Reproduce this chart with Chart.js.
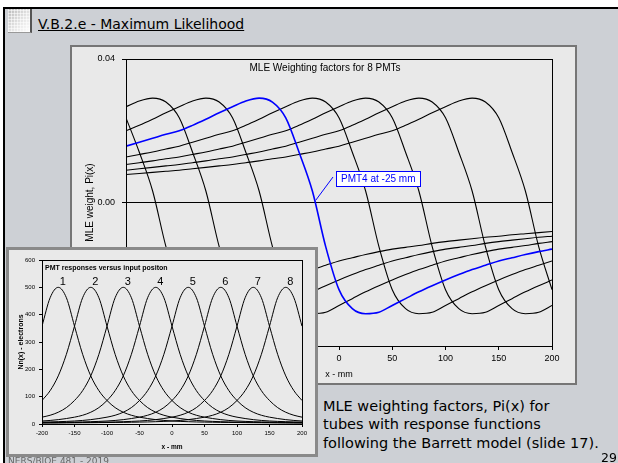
<!DOCTYPE html>
<html>
<head>
<meta charset="utf-8">
<title>V.B.2.e - Maximum Likelihood</title>
<script src="https://cdn.jsdelivr.net/npm/chart.js@4.4.1/dist/chart.umd.min.js"></script>
<style>
  html, body { margin:0; padding:0; }
  body { width:618px; height:463px; overflow:hidden; position:relative; background:#ffffff; font-family:'DejaVu Sans', sans-serif; }
  .abs { position:absolute; }
  #slide { left:3px; top:7px; width:615px; height:456px; box-sizing:border-box; background:#cdd0d5; border-top:2px solid #000; border-left:2px solid #000; }
  #icon { left:8px; top:9px; width:24px; height:24px; box-sizing:border-box; border-right:2px solid #555; border-bottom:1px solid #999;
          background:
            repeating-linear-gradient(0deg, rgba(255,255,255,0.55) 0 1px, rgba(255,255,255,0) 1px 3px),
            repeating-linear-gradient(90deg, rgba(255,255,255,0.55) 0 1px, rgba(255,255,255,0) 1px 3px),
            linear-gradient(135deg, #b9b9b9 0%, #e4e4e4 55%, #ffffff 100%); }
  #heading { left:38px; top:16px; font-size:14px; line-height:16px; color:#000; text-decoration:underline; white-space:nowrap; }
  #mainBox { left:70px; top:45px; width:507px; height:340px; box-sizing:border-box; background:#e9e9e9; border:2px solid #767676; }
  #mainChart { left:70px; top:45px; }
  #insetBox { left:6px; top:247px; width:312px; height:210px; box-sizing:border-box; background:#e9e9e9; border:3px solid #8a8a8a; }
  #insetChart { left:6px; top:247px; }
  #caption { left:323px; top:396.5px; font-size:14.5px; line-height:18.7px; color:#000; white-space:nowrap; }
  #pageNo { right:1px; top:450.5px; font-size:12.5px; line-height:14px; color:#000; }
  #footer { left:8px; top:456px; font-size:9px; line-height:11px; color:#666; white-space:nowrap; }
</style>
</head>
<body>
<div id="slide" class="abs"></div>
<div id="icon" class="abs"></div>
<div id="heading" class="abs">V.B.2.e - Maximum Likelihood</div>
<div id="mainBox" class="abs"></div>
<canvas id="mainChart" class="abs" width="507" height="340"></canvas>
<div id="insetBox" class="abs"></div>
<canvas id="insetChart" class="abs" width="312" height="210"></canvas>
<div id="caption" class="abs">MLE weighting factors, Pi(x) for<br>tubes with response functions<br>following the Barrett model (slide 17).</div>
<div id="pageNo" class="abs">29</div>
<div id="footer" class="abs">NERS/BIOE 481 - 2019</div>

<script>
// ---------- data ----------
const xValues = [-200,-187.5,-175,-162.5,-150,-137.5,-125,-112.5,-100,-87.5,-75,-62.5,-50,-37.5,-25,-12.5,0,12.5,25,37.5,50,62.5,75,87.5,100,112.5,125,137.5,150,162.5,175,187.5,200];

// MLE weighting factors Pi(x) for the 8 PMTs (main chart)
const mle1 = [0.0236,0.0140,0.0032,-0.0123,-0.0243,-0.0296,-0.0310,-0.0306,-0.0287,-0.0268,-0.0249,-0.0232,-0.0216,-0.0201,-0.0187,-0.0175,-0.0163,-0.0154,-0.0145,-0.0137,-0.0130,-0.0125,-0.0120,-0.0114,-0.0109,-0.0105,-0.0101,-0.0097,-0.0094,-0.0090,-0.0087,-0.0084,-0.0081];
const mle2 = [0.0267,0.0283,0.0291,0.0280,0.0236,0.0140,0.0032,-0.0123,-0.0243,-0.0296,-0.0310,-0.0306,-0.0287,-0.0268,-0.0249,-0.0232,-0.0216,-0.0201,-0.0187,-0.0175,-0.0163,-0.0154,-0.0145,-0.0137,-0.0130,-0.0125,-0.0120,-0.0114,-0.0109,-0.0105,-0.0101,-0.0097,-0.0094];
const mle3 = [0.0200,0.0215,0.0232,0.0250,0.0267,0.0283,0.0291,0.0280,0.0236,0.0140,0.0032,-0.0123,-0.0243,-0.0296,-0.0310,-0.0306,-0.0287,-0.0268,-0.0249,-0.0232,-0.0216,-0.0201,-0.0187,-0.0175,-0.0163,-0.0154,-0.0145,-0.0137,-0.0130,-0.0125,-0.0120,-0.0114,-0.0109];
const mle4 = [0.0157,0.0168,0.0179,0.0190,0.0200,0.0215,0.0232,0.0250,0.0267,0.0283,0.0291,0.0280,0.0236,0.0140,0.0032,-0.0123,-0.0243,-0.0296,-0.0310,-0.0306,-0.0287,-0.0268,-0.0249,-0.0232,-0.0216,-0.0201,-0.0187,-0.0175,-0.0163,-0.0154,-0.0145,-0.0137,-0.0130];
const mle5 = [0.0127,0.0134,0.0141,0.0149,0.0157,0.0168,0.0179,0.0190,0.0200,0.0215,0.0232,0.0250,0.0267,0.0283,0.0291,0.0280,0.0236,0.0140,0.0032,-0.0123,-0.0243,-0.0296,-0.0310,-0.0306,-0.0287,-0.0268,-0.0249,-0.0232,-0.0216,-0.0201,-0.0187,-0.0175,-0.0163];
const mle6 = [0.0106,0.0111,0.0116,0.0122,0.0127,0.0134,0.0141,0.0149,0.0157,0.0168,0.0179,0.0190,0.0200,0.0215,0.0232,0.0250,0.0267,0.0283,0.0291,0.0280,0.0236,0.0140,0.0032,-0.0123,-0.0243,-0.0296,-0.0310,-0.0306,-0.0287,-0.0268,-0.0249,-0.0232,-0.0216];
const mle7 = [0.0090,0.0094,0.0098,0.0102,0.0106,0.0111,0.0116,0.0122,0.0127,0.0134,0.0141,0.0149,0.0157,0.0168,0.0179,0.0190,0.0200,0.0215,0.0232,0.0250,0.0267,0.0283,0.0291,0.0280,0.0236,0.0140,0.0032,-0.0123,-0.0243,-0.0296,-0.0310,-0.0306,-0.0287];
const mle8 = [0.0078,0.0081,0.0084,0.0087,0.0090,0.0094,0.0098,0.0102,0.0106,0.0111,0.0116,0.0122,0.0127,0.0134,0.0141,0.0149,0.0157,0.0168,0.0179,0.0190,0.0200,0.0215,0.0232,0.0250,0.0267,0.0283,0.0291,0.0280,0.0236,0.0140,0.0032,-0.0123,-0.0243];

// PMT responses Nn(x) (inset chart)
const resp1 = [358,462,500,462,358,255,176,122,86,60,43,32,25,20,16,13,11,9.5,8.5,7.5,7,6.5,6,5.7,5.4,5.1,4.8,4.6,4.4,4.2,4.0,3.8,3.6];
const resp2 = [86,122,176,255,358,462,500,462,358,255,176,122,86,60,43,32,25,20,16,13,11,9.5,8.5,7.5,7,6.5,6,5.7,5.4,5.1,4.8,4.6,4.4];
const resp3 = [25,32,43,60,86,122,176,255,358,462,500,462,358,255,176,122,86,60,43,32,25,20,16,13,11,9.5,8.5,7.5,7,6.5,6,5.7,5.4];
const resp4 = [11,13,16,20,25,32,43,60,86,122,176,255,358,462,500,462,358,255,176,122,86,60,43,32,25,20,16,13,11,9.5,8.5,7.5,7];
const resp5 = [7,7.5,8.5,9.5,11,13,16,20,25,32,43,60,86,122,176,255,358,462,500,462,358,255,176,122,86,60,43,32,25,20,16,13,11];
const resp6 = [5.4,5.7,6,6.5,7,7.5,8.5,9.5,11,13,16,20,25,32,43,60,86,122,176,255,358,462,500,462,358,255,176,122,86,60,43,32,25];
const resp7 = [4.4,4.6,4.8,5.1,5.4,5.7,6,6.5,7,7.5,8.5,9.5,11,13,16,20,25,32,43,60,86,122,176,255,358,462,500,462,358,255,176,122,86];
const resp8 = [3.6,3.8,4.0,4.2,4.4,4.6,4.8,5.1,5.4,5.7,6,6.5,7,7.5,8.5,9.5,11,13,16,20,25,32,43,60,86,122,176,255,358,462,500,462,358];

const pmtLabels = ['1','2','3','4','5','6','7','8'];
const mainTitle = 'MLE Weighting factors for 8 PMTs';
const insetTitle = 'PMT responses versus input positon';
const noteText = 'PMT4 at -25 mm';
const highlightIndex = 3;          // PMT4 drawn in blue
const noteBox = {x: -3, y: 0.0087};     // top-left of the label box, data units
const noteAnchor = {x: -21.9, y: 0.0006};// point on the PMT4 curve
const peakLabelValue = 520;

// ---------- charts ----------
const FONT = '"Liberation Sans", Arial, Helvetica, sans-serif';
Chart.defaults.font.family = FONT;
Chart.defaults.color = '#000';

const mleSeries = [mle1, mle2, mle3, mle4, mle5, mle6, mle7, mle8];
const respSeries = [resp1, resp2, resp3, resp4, resp5, resp6, resp7, resp8];
const toPts = s => xValues.map((x, k) => ({x: x, y: s[k]}));

function frame(ctx, a) {
  ctx.strokeStyle = '#000';
  ctx.lineWidth = 1;
  ctx.strokeRect(Math.round(a.left) + 0.5, Math.round(a.top) + 0.5,
                 Math.round(a.right - a.left), Math.round(a.bottom - a.top));
}

const mainDecor = {
  id: 'mainDecor',
  afterDraw(chart) {
    const ctx = chart.ctx, a = chart.chartArea, xs = chart.scales.x, ys = chart.scales.y;
    ctx.save();
    frame(ctx, a);
    ctx.fillStyle = '#000';
    ctx.font = '10px ' + FONT;
    ctx.textAlign = 'center';
    ctx.textBaseline = 'middle';
    ctx.fillText(mainTitle, (a.left + a.right) / 2 - 14, a.top + 9);
    const bx = Math.round(xs.getPixelForValue(noteBox.x));
    const by = Math.round(ys.getPixelForValue(noteBox.y));
    const ax = xs.getPixelForValue(noteAnchor.x), ay = ys.getPixelForValue(noteAnchor.y);
    ctx.strokeStyle = '#0000ff';
    ctx.lineWidth = 1;
    ctx.beginPath(); ctx.moveTo(bx - 3, by + 6); ctx.lineTo(ax, ay); ctx.stroke();
    const w = Math.round(ctx.measureText(noteText).width + 10);
    ctx.fillStyle = '#ffffff';
    ctx.fillRect(bx, by, w, 15);
    ctx.strokeRect(bx + 0.5, by + 0.5, w, 15);
    ctx.fillStyle = '#0000ff';
    ctx.textAlign = 'left';
    ctx.fillText(noteText, bx + 5, by + 8.5);
    ctx.restore();
  }
};

new Chart(document.getElementById('mainChart'), {
  type: 'line',
  data: {
    datasets: mleSeries.map((s, i) => ({
      label: 'PMT' + (i + 1),
      data: toPts(s),
      borderColor: i === highlightIndex ? '#0000ff' : '#000000',
      borderWidth: i === highlightIndex ? 1.6 : 1.1,
      pointRadius: 0,
      fill: false,
      cubicInterpolationMode: 'monotone',
      order: i === highlightIndex ? 0 : 1
    }))
  },
  options: {
    responsive: false, animation: false, devicePixelRatio: 1,
    layout: {padding: {left: 0, top: 14, right: 25, bottom: 0}},
    plugins: {legend: {display: false}, tooltip: {enabled: false}, title: {display: false}},
    scales: {
      x: {
        type: 'linear', min: -200, max: 200,
        ticks: {stepSize: 50, font: {size: 9}, color: '#000', padding: 3, maxRotation: 0, autoSkip: false},
        grid: {drawOnChartArea: false, drawTicks: true, tickLength: 4, tickColor: '#000'},
        border: {display: false},
        title: {display: true, text: 'x - mm', font: {size: 9}, color: '#000', padding: {top: 0, bottom: 5}},
        afterFit: s => { s.height = 39; }
      },
      y: {
        type: 'linear', min: -0.04, max: 0.04,
        ticks: {stepSize: 0.04, font: {size: 9}, color: '#000', padding: 7,
                callback: v => (Math.abs(v) < 1e-9 ? 0 : v).toFixed(2)},
        grid: {drawOnChartArea: true, drawTicks: true, tickLength: 4, tickColor: '#000',
               color: c => (c.tick && Math.abs(c.tick.value) < 1e-9) ? '#000' : 'rgba(0,0,0,0)'},
        border: {display: false},
        title: {display: true, text: 'MLE weight, Pi(x)', font: {size: 10}, color: '#000', padding: {top: 14, bottom: 0}},
        afterFit: s => { s.width = 56; }
      }
    }
  },
  plugins: [mainDecor]
});

const insetDecor = {
  id: 'insetDecor',
  afterDraw(chart) {
    const ctx = chart.ctx, a = chart.chartArea, xs = chart.scales.x, ys = chart.scales.y;
    ctx.save();
    frame(ctx, a);
    ctx.fillStyle = '#000';
    ctx.font = 'bold 7px ' + FONT;
    ctx.textAlign = 'left';
    ctx.textBaseline = 'middle';
    ctx.fillText(insetTitle, a.left + 3, a.top + 8);
    ctx.font = '11px ' + FONT;
    ctx.textAlign = 'center';
    chart.data.datasets.forEach((ds, i) => {
      let best = ds.data[0];
      ds.data.forEach(p => { if (p.y > best.y) best = p; });
      ctx.fillText(pmtLabels[i], xs.getPixelForValue(best.x) + 4.5, ys.getPixelForValue(peakLabelValue));
    });
    ctx.restore();
  }
};

new Chart(document.getElementById('insetChart'), {
  type: 'line',
  data: {
    datasets: respSeries.map((s, i) => ({
      label: pmtLabels[i],
      data: toPts(s),
      borderColor: '#000000',
      borderWidth: 1,
      pointRadius: 0,
      fill: false,
      cubicInterpolationMode: 'monotone'
    }))
  },
  options: {
    responsive: false, animation: false, devicePixelRatio: 1,
    layout: {padding: {left: 0, top: 13, right: 16, bottom: 0}},
    plugins: {legend: {display: false}, tooltip: {enabled: false}, title: {display: false}},
    scales: {
      x: {
        type: 'linear', min: -200, max: 200,
        ticks: {stepSize: 50, font: {size: 6}, color: '#000', padding: 3, maxRotation: 0, autoSkip: false},
        grid: {drawOnChartArea: false, drawTicks: true, tickLength: 3, tickColor: '#000'},
        border: {display: false},
        title: {display: true, text: 'x - mm', font: {size: 6.5, weight: 'bold'}, color: '#000', padding: {top: 0, bottom: 6}},
        afterFit: s => { s.height = 33; }
      },
      y: {
        type: 'linear', min: 0, max: 600,
        ticks: {stepSize: 100, font: {size: 6}, color: '#000', padding: 4},
        grid: {drawOnChartArea: false, drawTicks: true, tickLength: 3, tickColor: '#000'},
        border: {display: false},
        title: {display: true, text: 'Nn(x) - electrons', font: {size: 7, weight: 'bold'}, color: '#000', padding: {top: 11, bottom: 0}},
        afterFit: s => { s.width = 36; }
      }
    }
  },
  plugins: [insetDecor]
});
</script>
</body>
</html>
